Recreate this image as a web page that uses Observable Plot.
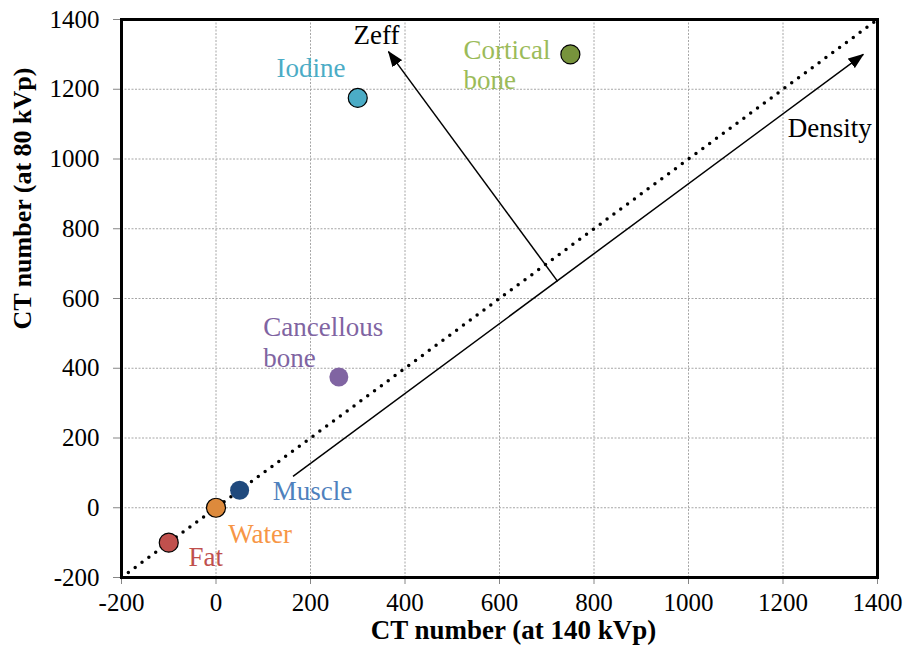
<!DOCTYPE html>
<html>
<head>
<meta charset="utf-8">
<script src="https://cdn.jsdelivr.net/npm/d3@7"></script>
<script src="https://cdn.jsdelivr.net/npm/@observablehq/plot@0.6"></script>
<style>
  html, body { margin: 0; padding: 0; background: #fff; }
  #chart svg { display: block; }
  #chart svg, #chart svg text { font-family: "Liberation Serif", "Times New Roman", serif !important; }
</style>
</head>
<body>
<div id="chart"></div>
<script>
// ---- data ----
const xTicks = [-200, 0, 200, 400, 600, 800, 1000, 1200, 1400];
const yTicks = [-200, 0, 200, 400, 600, 800, 1000, 1200, 1400];

const materials = ["Fat", "Water", "Muscle", "Cancellous bone", "Iodine", "Cortical bone"];
const ct140 = [-100, 0, 50, 260, 300, 750];
const ct80 = [-100, 0, 50, 375, 1175, 1300];
const pointFill = ["#C0504D", "#DD8A3C", "#1F497D", "#8064A2", "#4BACC6", "#77933C"];
const pointStroke = ["#000", "#000", "none", "none", "#000", "#000"];

const labelText = ["Fat", "Water", "Muscle", "Cancellous\nbone", "Iodine", "Cortical\nbone"];
const labelX = [-58, 26, 120, 100, 128, 524];
const labelY = [-168, -102, 21, 405, 1234, 1200];
const labelColor = ["#C0504D", "#F79646", "#4F81BD", "#8064A2", "#4BACC6", "#9BBB59"];

const arrowNames = ["Density", "Zeff"];
const arrowX1 = [163, 723];
const arrowY1 = [90, 649];
const arrowX2 = [1370, 365];
const arrowY2 = [1300, 1308];
const arrowLabelX = [1210, 291];
const arrowLabelY = [1062, 1331];

const identityLine = [[-200, -200], [1400, 1400]];

const xTitle = "CT number (at 140 kVp)";
const yTitle = "CT number (at 80 kVp)";

// ---- tables ----
const points = materials.map((m, i) => ({m, x: ct140[i], y: ct80[i], fill: pointFill[i], stroke: pointStroke[i]}));
const labels = labelText.map((t, i) => ({t, x: labelX[i], y: labelY[i], c: labelColor[i]}));
const arrows = arrowNames.map((n, i) => ({n, x1: arrowX1[i], y1: arrowY1[i], x2: arrowX2[i], y2: arrowY2[i], lx: arrowLabelX[i], ly: arrowLabelY[i]}));

const fmt = d => String(d);
const serif = "Liberation Serif";

const plot = Plot.plot({
  width: 906,
  height: 659,
  marginLeft: 121,
  marginRight: 29,
  marginTop: 19,
  marginBottom: 82,
  style: {fontFamily: "'Liberation Serif', 'Times New Roman', serif", background: "#fff"},
  x: {domain: [-200, 1400]},
  y: {domain: [-200, 1400]},
  color: {type: "identity"},
  marks: [
    Plot.gridX(xTicks, {stroke: "#a6a6a6", strokeOpacity: 1, strokeDasharray: "2,1.5", strokeWidth: 1}),
    Plot.gridY(yTicks, {stroke: "#a6a6a6", strokeOpacity: 1, strokeDasharray: "2,1.5", strokeWidth: 1}),
    Plot.axisX(xTicks, {tickFormat: fmt, tickSize: 7, tickPadding: 9, fontSize: 25, fontFamily: serif, stroke: "#868686", fill: "#000", label: null}),
    Plot.axisY(yTicks, {tickFormat: fmt, tickSize: 8, tickPadding: 14, fontSize: 25, fontFamily: serif, stroke: "#868686", fill: "#000", label: null}),
    Plot.line(identityLine, {x: d => d[0], y: d => d[1], stroke: "#000", strokeWidth: 3.5, strokeDasharray: "0,8.5", strokeLinecap: "round"}),
    Plot.link(arrows, {x1: "x1", y1: "y1", x2: "x2", y2: "y2", stroke: "#000", strokeWidth: 1.5}),
    Plot.text(arrows, {x: "lx", y: "ly", text: "n", textAnchor: "start", lineAnchor: "bottom", fontSize: 27, fontFamily: serif, fill: "#000"}),
    Plot.dot(points, {x: "x", y: "y", r: 9.5, fill: "fill", stroke: "stroke", strokeWidth: 1.2}),
    Plot.text(labels, {x: "x", y: "y", text: "t", textAnchor: "start", lineAnchor: "bottom", fontSize: 27, fontFamily: serif, lineHeight: 1.13, fill: "c"}),
    Plot.frame({stroke: "#000", strokeWidth: 3}),
    Plot.text([xTitle], {frameAnchor: "bottom", dx: 14, dy: 61, fontSize: 27, fontFamily: serif, fontWeight: "bold", fill: "#000"}),
    Plot.text([yTitle], {frameAnchor: "left", dx: -99, dy: 31, rotate: -90, fontSize: 26, fontFamily: serif, fontWeight: "bold", fill: "#000"})
  ]
});

// filled arrowheads on link ends
const ns = "http://www.w3.org/2000/svg";
const defs = document.createElementNS(ns, "defs");
const marker = document.createElementNS(ns, "marker");
marker.setAttribute("id", "headFilled");
marker.setAttribute("viewBox", "0 0 16 12");
marker.setAttribute("refX", "15");
marker.setAttribute("refY", "6");
marker.setAttribute("markerWidth", "16");
marker.setAttribute("markerHeight", "12");
marker.setAttribute("markerUnits", "userSpaceOnUse");
marker.setAttribute("orient", "auto");
const mp = document.createElementNS(ns, "path");
mp.setAttribute("d", "M0,0L16,6L0,12Z");
mp.setAttribute("fill", "#000");
marker.appendChild(mp);
defs.appendChild(marker);
plot.insertBefore(defs, plot.firstChild);
plot.querySelectorAll('g[aria-label="link"] path').forEach(p => p.setAttribute("marker-end", "url(#headFilled)"));

document.getElementById("chart").appendChild(plot);
</script>
</body>
</html>
